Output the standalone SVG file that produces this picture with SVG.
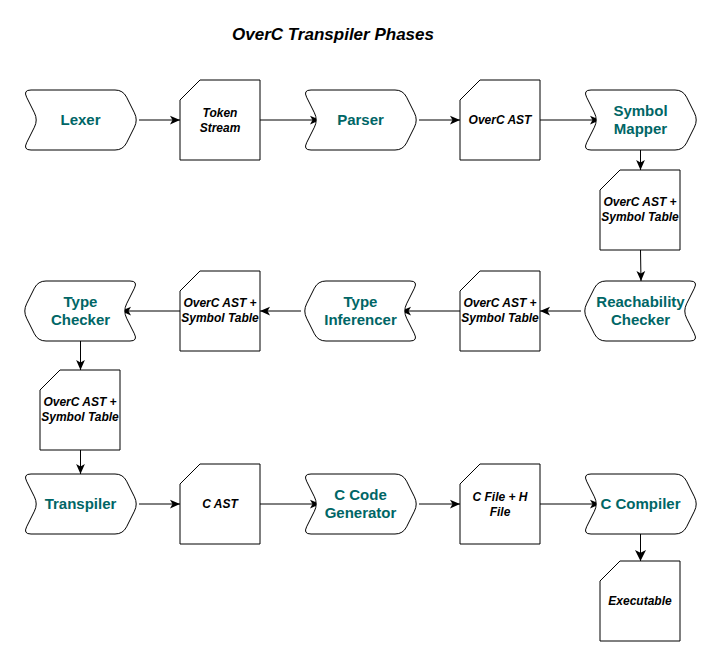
<svg xmlns="http://www.w3.org/2000/svg" width="721" height="662" viewBox="0 0 721 662">
<style>
.step{fill:#ffffff;stroke:#000000;stroke-width:1}
.card{fill:#ffffff;stroke:#000000;stroke-width:1}
.lbl{font-family:"Liberation Sans",Arial,sans-serif;font-size:15px;font-weight:bold;fill:#006666;text-anchor:middle}
.clbl{font-family:"Liberation Sans",Arial,sans-serif;font-size:12px;font-weight:bold;font-style:italic;fill:#000000;text-anchor:middle}
.title{font-family:"Liberation Sans",Arial,sans-serif;font-size:17px;font-weight:bold;font-style:italic;fill:#000000;text-anchor:middle}
.edge{fill:none;stroke:#000000;stroke-width:1}
</style>
<defs>
<path id="stepR" d="M8,0 L92,0 Q100,0 103.6,7.2 L111.4,22.8 Q115,30 111.4,37.2 L103.6,52.8 Q100,60 92,60 L8,60 Q0,60 3.6,52.8 L11.4,37.2 Q15,30 11.4,22.8 L3.6,7.2 Q0,0 8,0 Z"/>
<path id="cardS" d="M20,0 H80 V80 H0 V20 Z"/>
<marker id="arr" markerUnits="userSpaceOnUse" markerWidth="10" markerHeight="10" refX="8" refY="3.5" orient="auto" viewBox="0 0 8 7">
<path d="M0,0 L8,3.5 L0,7 L2,3.5 Z" fill="#000000"/>
</marker>
<marker id="arrBig" markerUnits="userSpaceOnUse" markerWidth="11" markerHeight="11" refX="10" refY="5" orient="auto" viewBox="0 0 10 10">
<path d="M0,0 L10,5 L0,10 L2.5,5 Z" fill="#000000"/>
</marker>
</defs>
<rect width="721" height="662" fill="#ffffff"/>
<text class="title" x="333" y="40">OverC Transpiler Phases</text>

<g id="connectors">
<line class="edge" x1="139" y1="120" x2="180" y2="120" marker-end="url(#arr)"/>
<line class="edge" x1="260" y1="120" x2="320" y2="120" marker-end="url(#arr)"/>
<line class="edge" x1="419" y1="120" x2="460" y2="120" marker-end="url(#arr)"/>
<line class="edge" x1="540" y1="120" x2="600" y2="120" marker-end="url(#arr)"/>
<line class="edge" x1="640.5" y1="150" x2="640.5" y2="170" marker-end="url(#arr)"/>
<line class="edge" x1="640.5" y1="250" x2="641" y2="281" marker-end="url(#arr)"/>
<line class="edge" x1="581" y1="311" x2="540" y2="311" marker-end="url(#arr)"/>
<line class="edge" x1="460" y1="311" x2="401" y2="311" marker-end="url(#arr)"/>
<line class="edge" x1="301" y1="311" x2="260" y2="311" marker-end="url(#arr)"/>
<line class="edge" x1="180" y1="311" x2="121" y2="311" marker-end="url(#arr)"/>
<line class="edge" x1="80.5" y1="341" x2="80.5" y2="370" marker-end="url(#arr)"/>
<line class="edge" x1="80.5" y1="450" x2="80.5" y2="474" marker-end="url(#arr)"/>
<line class="edge" x1="139" y1="504" x2="180" y2="504" marker-end="url(#arr)"/>
<line class="edge" x1="260" y1="504" x2="320" y2="504" marker-end="url(#arr)"/>
<line class="edge" x1="419" y1="504" x2="460" y2="504" marker-end="url(#arr)"/>
<line class="edge" x1="540" y1="504" x2="600" y2="504" marker-end="url(#arr)"/>
<line class="edge" x1="640.5" y1="534" x2="640.5" y2="561" marker-end="url(#arrBig)"/>
</g>

<g id="lexer"><use href="#stepR" class="step" transform="translate(23,90)"/><text class="lbl" x="80.5" y="125">Lexer</text></g>
<g id="token-stream"><use href="#cardS" class="card" transform="translate(180,80)"/><text class="clbl" x="220" y="117">Token</text><text class="clbl" x="220" y="132">Stream</text></g>
<g id="parser"><use href="#stepR" class="step" transform="translate(303,90)"/><text class="lbl" x="360.5" y="125">Parser</text></g>
<g id="overc-ast"><use href="#cardS" class="card" transform="translate(460,80)"/><text class="clbl" x="500" y="124">OverC AST</text></g>
<g id="symbol-mapper"><use href="#stepR" class="step" transform="translate(583,90)"/><text class="lbl" x="640.5" y="116">Symbol</text><text class="lbl" x="640.5" y="134">Mapper</text></g>
<g id="ast-symtab-1"><use href="#cardS" class="card" transform="translate(600,170)"/><text class="clbl" x="640" y="206">OverC AST +</text><text class="clbl" x="640" y="221">Symbol Table</text></g>

<g id="reachability-checker"><use href="#stepR" class="step" transform="translate(698,281) scale(-1,1)"/><text class="lbl" x="640.5" y="307">Reachability</text><text class="lbl" x="640.5" y="325">Checker</text></g>
<g id="ast-symtab-2"><use href="#cardS" class="card" transform="translate(460,271)"/><text class="clbl" x="500" y="307">OverC AST +</text><text class="clbl" x="500" y="322">Symbol Table</text></g>
<g id="type-inferencer"><use href="#stepR" class="step" transform="translate(418,281) scale(-1,1)"/><text class="lbl" x="360.5" y="307">Type</text><text class="lbl" x="360.5" y="325">Inferencer</text></g>
<g id="ast-symtab-3"><use href="#cardS" class="card" transform="translate(180,271)"/><text class="clbl" x="220" y="307">OverC AST +</text><text class="clbl" x="220" y="322">Symbol Table</text></g>
<g id="type-checker"><use href="#stepR" class="step" transform="translate(138,281) scale(-1,1)"/><text class="lbl" x="80.5" y="307">Type</text><text class="lbl" x="80.5" y="325">Checker</text></g>
<g id="ast-symtab-4"><use href="#cardS" class="card" transform="translate(40,370)"/><text class="clbl" x="80" y="406">OverC AST +</text><text class="clbl" x="80" y="421">Symbol Table</text></g>

<g id="transpiler"><use href="#stepR" class="step" transform="translate(23,474)"/><text class="lbl" x="80.5" y="509">Transpiler</text></g>
<g id="c-ast"><use href="#cardS" class="card" transform="translate(180,464)"/><text class="clbl" x="220" y="508">C AST</text></g>
<g id="c-code-generator"><use href="#stepR" class="step" transform="translate(303,474)"/><text class="lbl" x="360.5" y="500">C Code</text><text class="lbl" x="360.5" y="518">Generator</text></g>
<g id="c-h-file"><use href="#cardS" class="card" transform="translate(460,464)"/><text class="clbl" x="500" y="501">C File + H</text><text class="clbl" x="500" y="516">File</text></g>
<g id="c-compiler"><use href="#stepR" class="step" transform="translate(583,474)"/><text class="lbl" x="640.5" y="509">C Compiler</text></g>
<g id="executable"><use href="#cardS" class="card" transform="translate(600,561)"/><text class="clbl" x="640" y="605">Executable</text></g>
</svg>
